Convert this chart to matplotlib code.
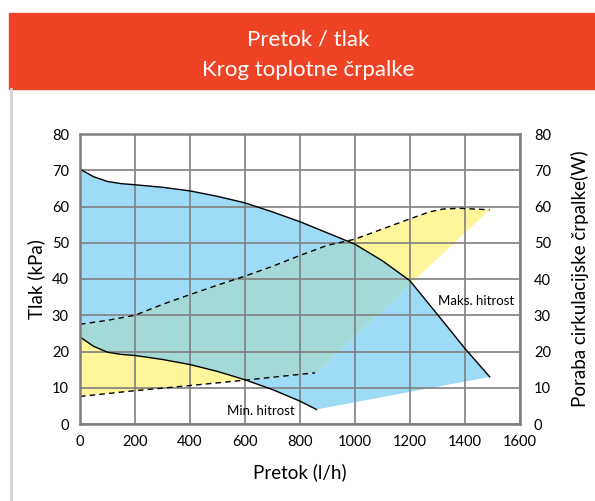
import matplotlib
matplotlib.use("Agg")
import matplotlib.pyplot as plt
from matplotlib.patches import Polygon, Rectangle
from matplotlib.lines import Line2D

plt.rcParams['font.family'] = ['Lato', 'DejaVu Sans']

# pump curves (flow l/h -> pressure kPa)
max_flow = [0, 50, 100, 150, 200, 300, 400, 500, 600, 700, 800, 900, 1000, 1100, 1200, 1300, 1400, 1490]
max_kpa = [70.3, 68.2, 66.9, 66.3, 66.0, 65.3, 64.3, 62.8, 61.0, 58.5, 55.8, 52.7, 49.6, 45.0, 39.5, 30.2, 20.8, 13.0]
min_flow = [0, 50, 100, 150, 200, 300, 400, 500, 600, 700, 800, 860]
min_kpa = [24.0, 21.4, 19.8, 19.2, 18.9, 17.8, 16.4, 14.5, 12.2, 9.5, 6.3, 4.0]

# power consumption (W)
pmax_flow = [0, 100, 200, 300, 400, 500, 600, 700, 800, 900, 960, 1000, 1100, 1200, 1270, 1320, 1380, 1490]
pmax_w = [27.5, 28.6, 30.0, 33.0, 35.7, 38.3, 40.8, 43.5, 46.5, 49.3, 50.3, 51.0, 53.8, 56.6, 58.5, 59.3, 59.5, 59.1]
pmin_flow = [0, 200, 400, 600, 800, 855]
pmin_w = [7.6, 9.2, 10.6, 12.1, 13.7, 14.1]

ticks_x = [0, 200, 400, 600, 800, 1000, 1200, 1400, 1600]
ticks_y = [0, 10, 20, 30, 40, 50, 60, 70, 80]

blue = '#9DDBF7'
yellow = '#FFF59A'
teal = '#A3DAD8'
grey = '#7F7F7F'

fig = plt.figure(figsize=(5.95, 5.01), dpi=100)

# header band
fig.patches.append(Rectangle((9/595, 1-89/501), 1, 76/501, transform=fig.transFigure,
                             color='#EF4325', zorder=0))
fig.text(0.518, 1-39/501, 'Pretok / tlak', color='white', fontsize=16, ha='center', va='center')
fig.text(0.518, 1-70/501, 'Krog toplotne črpalke', color='white', fontsize=16, ha='center', va='center')
fig.lines.append(Line2D([10.5/595, 10.5/595], [0, 1-89/501], transform=fig.transFigure,
                        color='#D4D4D4', lw=2))

ax = fig.add_axes([80/595, 77/501, 440/595, 290/501])

blue_pts = list(zip(max_flow, max_kpa)) + list(zip(min_flow[::-1], min_kpa[::-1]))
yel_pts = list(zip(pmax_flow, pmax_w)) + list(zip(pmin_flow[::-1], pmin_w[::-1]))

bp = Polygon(blue_pts, closed=True, facecolor=blue, edgecolor='none', zorder=1)
ax.add_patch(bp)
ax.add_patch(Polygon(yel_pts, closed=True, facecolor=yellow, edgecolor='none', zorder=1))
tp = Polygon(yel_pts, closed=True, facecolor=teal, edgecolor='none', zorder=1.5)
ax.add_patch(tp)
tp.set_clip_path(bp)

ax.plot(max_flow, max_kpa, color='black', lw=1, zorder=3)
ax.plot(min_flow, min_kpa, color='black', lw=1, zorder=3)
ax.plot(pmax_flow, pmax_w, color='black', lw=1, dashes=(4, 3), zorder=3)
ax.plot(pmin_flow, pmin_w, color='black', lw=1, dashes=(4, 3), zorder=3)

ax.set_xlim(0, 1600)
ax.set_ylim(0, 80)
ax.set_xticks(ticks_x)
ax.set_yticks(ticks_y)
ax.grid(True, color=grey, lw=1.2, zorder=2)
ax.set_axisbelow(False)
ax.tick_params(length=0, labelsize=10.5, pad=8)
for s in ax.spines.values():
    s.set_color(grey)
    s.set_linewidth(1.8)
    s.set_zorder(4)

ax2 = ax.twinx()
ax2.set_ylim(0, 80)
ax2.set_yticks(ticks_y)
ax2.tick_params(length=0, labelsize=10.5, pad=10)
for s in ax2.spines.values():
    s.set_visible(False)

ax.set_xlabel('Pretok (l/h)', fontsize=13.5, labelpad=10)
ax.set_ylabel('Tlak (kPa)', fontsize=13.5, labelpad=5)
ax2.set_ylabel('Poraba cirkulacijske črpalke(W)', fontsize=13.5, labelpad=14)

ax.text(780, 3.5, 'Min. hitrost', fontsize=9.5, ha='right', va='center', zorder=5)
ax.text(1300, 34, 'Maks. hitrost', fontsize=9.5, ha='left', va='center', zorder=5)

fig.savefig('out.png', dpi=100)
